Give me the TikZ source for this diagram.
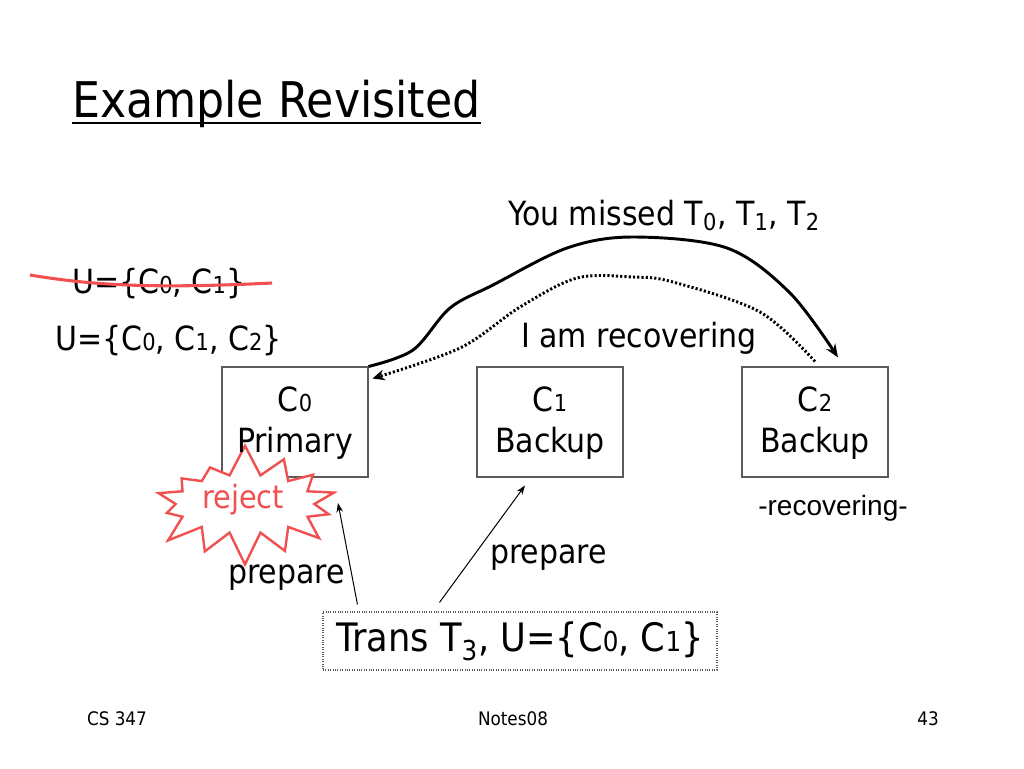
\documentclass[tikz,border=0pt]{standalone}
\usepackage{fontspec}
\setmainfont{DejaVu Sans Condensed}
\newfontfamily\arialfont{Liberation Sans}
\usetikzlibrary{arrows.meta,shapes.symbols}
\newcommand\sd[1]{\scalebox{0.7}{#1}}
\definecolor{rred}{RGB}{240,80,80}
\definecolor{bgray}{RGB}{90,90,90}
\begin{document}
\begin{tikzpicture}[x=0.75pt,y=-0.75pt,
  txt/.style={inner sep=0pt, anchor=base west, font=\fontsize{25}{30}\selectfont},
  box/.style={draw=bgray, line width=0.8pt, minimum width=109.5pt, minimum height=82.5pt, inner sep=0pt},
  boxtext/.style={align=center, inner sep=0pt, font=\fontsize{25}{31}\selectfont},
  conn/.style={line width=2.2pt, -{Stealth[length=10pt,width=8pt]}},
  dotconn/.style={line width=2.2pt, dash pattern=on 1.6pt off 1.6pt, -{Stealth[length=9pt,width=8pt]}},
  thinarrow/.style={line width=0.75pt, -{Stealth[length=7pt,width=5pt]}},
  foot/.style={inner sep=0pt, anchor=base, font=\fontsize{14}{16}\selectfont}]
\useasboundingbox (0,0) rectangle (1024,768);
% title
\node[txt, font=\fontsize{36.9}{40}\selectfont] (title) at (72,117) {Example Revisited};
\draw[line width=2pt] ([yshift=-4.5pt]title.base west) -- ([yshift=-4.5pt]title.base east);
% U sets
\node[txt] (old) at (72,293) {U=\{C\sd{0}, C\sd{1}\}};
\draw[rred, line width=2.3pt] (30,275) .. controls (90,285) and (150,289) .. (272,283);
\node[txt] (new) at (55,350) {U=\{C\sd{0}, C\sd{1}, C\sd{2}\}};
% boxes (borders)
\node[box] (c0) at (295,422) {};
\node[box] (c1) at (550,422) {};
\node[box] (c2) at (815,422) {};
% star
\node[starburst, starburst points=14, starburst point height=24pt, random starburst=7,
  draw=rred, line width=1.8pt, fill=white, minimum width=152pt, minimum height=92pt,
  inner sep=0pt] (rej) at (245,504) {};
\node[inner sep=0pt, text=rred, font=\fontsize{24}{28}\selectfont] (rejt) at (243,500) {reject};
% box texts
\node[boxtext] (c0t) at ([yshift=-1pt]c0.center) {C\sd{0}\\Primary};
\node[boxtext] (c1t) at ([yshift=-1pt]c1.center) {C\sd{1}\\Backup};
\node[boxtext] (c2t) at ([yshift=-1pt]c2.center) {C\sd{2}\\Backup};
\node[inner sep=0pt, anchor=base, font=\arialfont\fontsize{21}{24}\selectfont] (rec) at (833,515) {-recovering-};
% messages
\node[txt] (miss) at (508,225) {You missed T\textsubscript{0}, T\textsubscript{1}, T\textsubscript{2}};
\node[txt] (iam) at (521,347) {I am recovering};
\coordinate (tipA) at ([shift={(23,-9)}]c2.north);
\draw[conn] plot[smooth, tension=0.55] coordinates {(c0.north east) (413,350) (450,308) (493,285) (567,248) (633,237) (727,248) (790,293) (tipA)};
\coordinate (startB) at ([shift={(0,-5)}]c2.north);
\coordinate (tipB) at ([shift={(4,12)}]c0.north east);
\draw[dotconn] plot[smooth, tension=0.55] coordinates {(startB) (760,312) (673,282) (633,277) (577,278) (520,307) (460,348) (tipB)};
% transaction
\node[draw=bgray, densely dotted, line width=0.8pt, minimum width=295.5pt, minimum height=43.5pt, inner sep=0pt,
  font=\fontsize{29.4}{34}\selectfont] (tb) at (520,641) {Trans T\textsubscript{3}, U=\{C\sd{0}, C\sd{1}\}};
\node[txt] (p1) at (228,583) {prepare};
\node[txt] (p2) at (490,563) {prepare};
\coordinate (a1s) at ([shift={(35,-7)}]tb.north west);
\coordinate (a1e) at ([shift={(93,-1)}]rej.center);
\draw[thinarrow] (a1s) -- (a1e);
\coordinate (a2s) at ([shift={(117,-9)}]tb.north west);
\coordinate (a2e) at ([shift={(-25,8)}]c1.south);
\draw[thinarrow] (a2s) -- (a2e);
% footer
\node[foot] (f1) at (117,725) {CS 347};
\node[foot] (f2) at (513,725) {Notes08};
\node[foot] (f3) at (928,725) {43};
\end{tikzpicture}
\end{document}
